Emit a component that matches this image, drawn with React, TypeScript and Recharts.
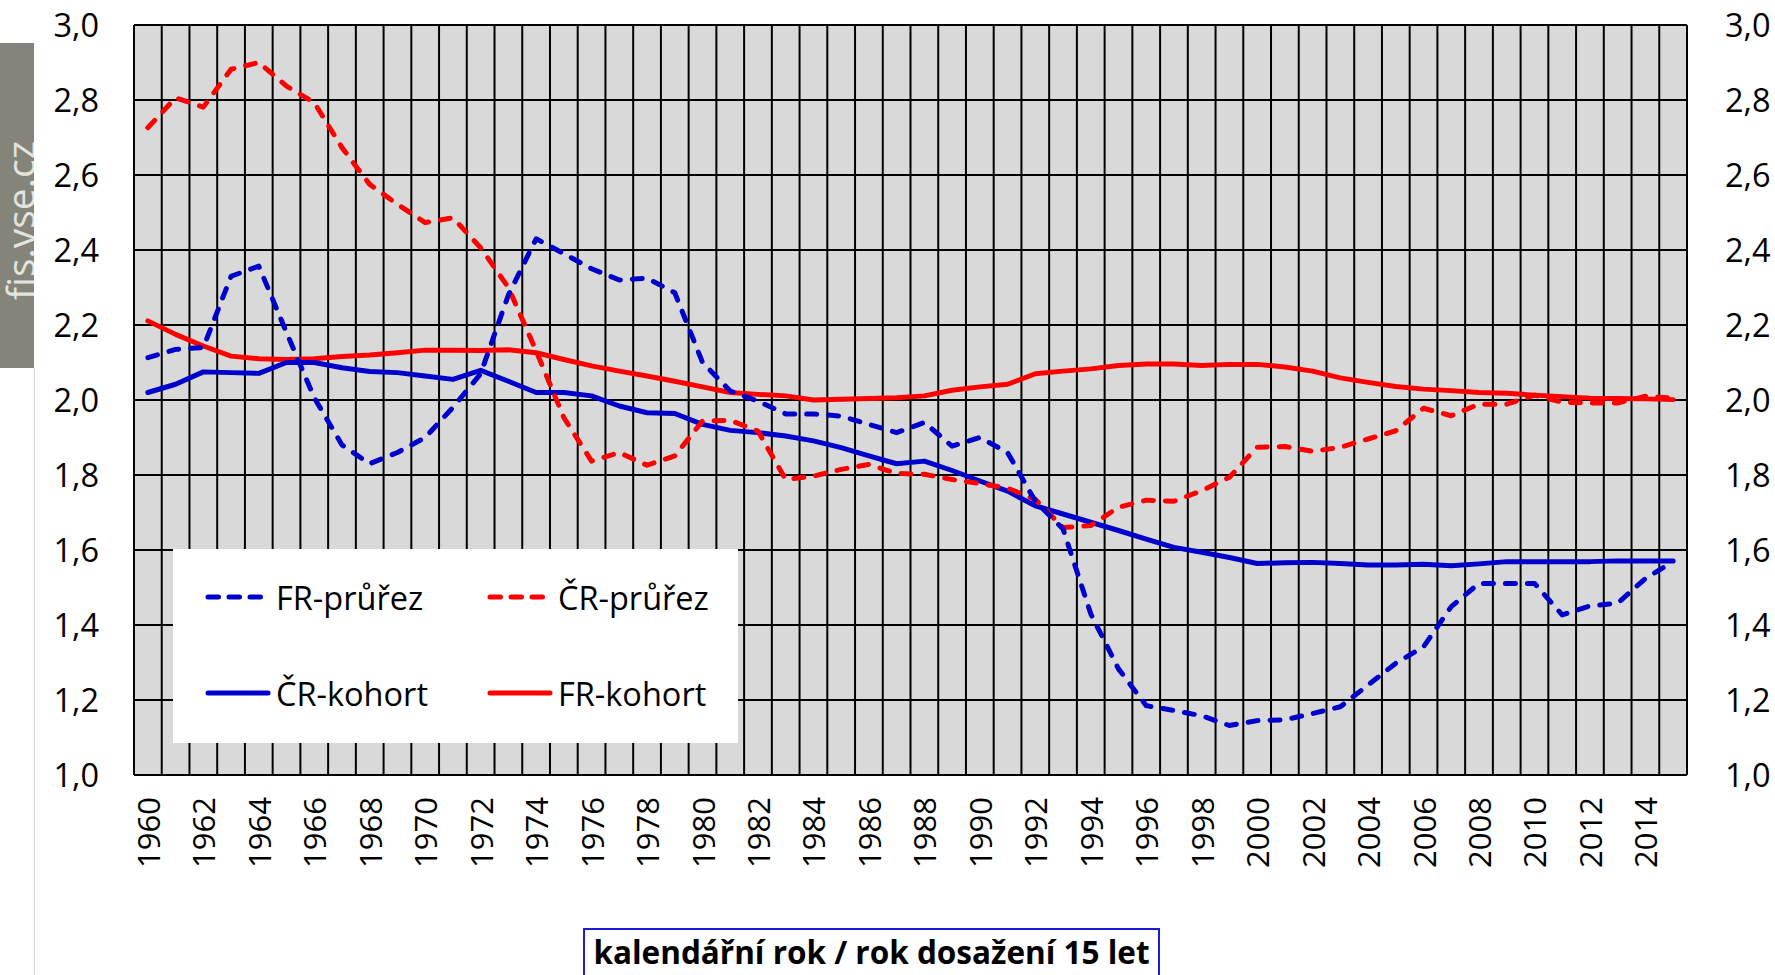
import React from 'react';
import { LineChart, Line, XAxis, YAxis, CartesianGrid } from 'recharts';

const years = [
  1960, 1961, 1962, 1963, 1964, 1965, 1966, 1967, 1968, 1969,
  1970, 1971, 1972, 1973, 1974, 1975, 1976, 1977, 1978, 1979,
  1980, 1981, 1982, 1983, 1984, 1985, 1986, 1987, 1988, 1989,
  1990, 1991, 1992, 1993, 1994, 1995, 1996, 1997, 1998, 1999,
  2000, 2001, 2002, 2003, 2004, 2005, 2006, 2007, 2008, 2009,
  2010, 2011, 2012, 2013, 2014, 2015,
];

const frPrurez = [
  2.113, 2.135, 2.14, 2.33, 2.357, 2.18, 2.006, 1.88, 1.83, 1.86,
  1.9, 1.98, 2.07, 2.28, 2.43, 2.39, 2.35, 2.32, 2.325, 2.286,
  2.1, 2.024, 1.997, 1.963, 1.963, 1.957, 1.935, 1.913, 1.94, 1.877,
  1.9, 1.86, 1.73, 1.656, 1.43, 1.283, 1.185, 1.172, 1.158, 1.132,
  1.145, 1.147, 1.164, 1.182, 1.24, 1.298, 1.342, 1.449, 1.511, 1.511,
  1.511, 1.427, 1.451, 1.458, 1.524, 1.569,
];

const crPrurez = [
  2.726, 2.806, 2.781, 2.882, 2.9, 2.837, 2.793, 2.673, 2.575, 2.522,
  2.473, 2.486, 2.406, 2.3, 2.131, 1.953, 1.837, 1.86, 1.826, 1.851,
  1.944, 1.946, 1.917, 1.788, 1.797, 1.815, 1.828, 1.804, 1.802, 1.788,
  1.777, 1.765, 1.735, 1.66, 1.665, 1.714, 1.733, 1.73, 1.758, 1.794,
  1.874, 1.876, 1.863, 1.874, 1.896, 1.918, 1.978, 1.958, 1.989, 1.989,
  2.013, 1.994, 1.992, 1.992, 2.01, 2.005,
];

const crKohort = [
  2.02, 2.042, 2.075, 2.073, 2.071, 2.1, 2.1, 2.086, 2.076, 2.073,
  2.064, 2.055, 2.079, 2.05, 2.02, 2.02, 2.011, 1.984, 1.966, 1.964,
  1.935, 1.919, 1.913, 1.904, 1.891, 1.873, 1.851, 1.83, 1.837, 1.812,
  1.784, 1.757, 1.718, 1.696, 1.674, 1.652, 1.629, 1.607, 1.594, 1.58,
  1.564, 1.566, 1.567, 1.564, 1.56, 1.56, 1.562, 1.558, 1.563, 1.569,
  1.569, 1.569, 1.569, 1.571, 1.571, 1.571,
];

const frKohort = [
  2.211, 2.175, 2.144, 2.117, 2.11, 2.108, 2.11, 2.116, 2.12, 2.126,
  2.133, 2.133, 2.132, 2.134, 2.126, 2.108, 2.091, 2.077, 2.064, 2.05,
  2.035, 2.02, 2.015, 2.011, 2.0, 2.002, 2.004, 2.006, 2.011, 2.026,
  2.035, 2.042, 2.07, 2.077, 2.083, 2.092, 2.096, 2.096, 2.092, 2.095,
  2.095, 2.088, 2.077, 2.059, 2.047, 2.036, 2.029, 2.025, 2.02, 2.018,
  2.013, 2.009, 2.005, 2.004, 2.003, 2.001,
];

const yTicks = [1.0, 1.2, 1.4, 1.6, 1.8, 2.0, 2.2, 2.4, 2.6, 2.8, 3.0];

const BLUE = '#0000cc';
const RED = '#ff0000';
const DASH = '10 12';
const FONT = '"Open Sans", sans-serif';

const CHART_W = 1775;
const CHART_H = 975;
const LEFT_W = 134;
const RIGHT_W = 88;
// half a category on each side, so points sit in the middle of each grid cell
const HALF_CAT = (CHART_W - LEFT_W - RIGHT_W) / years.length / 2;

// drawing order + legend placement (legend order: FR-průřez, ČR-průřez / ČR-kohort, FR-kohort)
const series = [
  { key: 'frKohort', name: 'FR-kohort', color: RED, dashed: false, col: 1, row: 1 },
  { key: 'crKohort', name: 'ČR-kohort', color: BLUE, dashed: false, col: 0, row: 1 },
  { key: 'crPrurez', name: 'ČR-průřez', color: RED, dashed: true, col: 1, row: 0 },
  { key: 'frPrurez', name: 'FR-průřez', color: BLUE, dashed: true, col: 0, row: 0 },
];

const data = years.map((year, i) => ({
  year,
  frPrurez: frPrurez[i],
  crPrurez: crPrurez[i],
  crKohort: crKohort[i],
  frKohort: frKohort[i],
}));

const fmt = (v: number) => v.toFixed(1).replace('.', ',');

const YearTick = (props: any) => {
  const { x, y, payload } = props;
  return (
    <text
      x={x}
      y={y}
      transform={`rotate(-90, ${x}, ${y})`}
      textAnchor="end"
      dominantBaseline="central"
      fontSize={31}
      fill="#000"
    >
      {payload.value}
    </text>
  );
};

// vertical grid lines sit between the categories, not on them
const categoryBoundaries = ({ offset }: any) => {
  const n = years.length;
  const out: number[] = [];
  for (let i = 0; i <= n; i++) out.push(offset.left + (offset.width * i) / n);
  return out;
};

const ChartLegend = () => (
  <svg
    width={565}
    height={194}
    style={{ position: 'absolute', left: 173, top: 549 }}
  >
    <rect x={0} y={0} width={565} height={194} fill="#fff" />
    {series.map((s) => {
      const lx = s.col === 0 ? 33 : 315;
      const ly = s.row === 0 ? 48 : 144;
      return (
        <g key={s.key}>
          <line
            x1={lx + 2}
            y1={ly}
            x2={lx + (s.dashed ? 58 : 62)}
            y2={ly}
            stroke={s.color}
            strokeWidth={5}
            strokeDasharray={s.dashed ? '10.5 10.5' : undefined}
            strokeLinecap="round"
          />
          <text
            x={lx + 70}
            y={ly}
            dominantBaseline="central"
            fontSize={32.5}
            fontFamily={FONT}
            fill="#000"
          >
            {s.name}
          </text>
        </g>
      );
    })}
  </svg>
);

export default function App() {
  return (
    <div
      style={{
        position: 'absolute',
        left: 0,
        top: 0,
        width: CHART_W,
        height: CHART_H,
        background: '#fff',
        fontFamily: FONT,
        overflow: 'hidden',
      }}
    >
      <div
        style={{
          position: 'absolute',
          left: 0,
          top: 43,
          width: 34,
          height: 325,
          background: '#84847a',
          overflow: 'hidden',
        }}
      >
        <svg width={34} height={325}>
          <text
            x={35}
            y={257}
            transform="rotate(-90, 35, 257)"
            fontSize={39}
            fill="#e4e4de"
            fontFamily={FONT}
          >
            fis.vse.cz
          </text>
        </svg>
      </div>
      <div
        style={{
          position: 'absolute',
          left: 34,
          top: 368,
          width: 1,
          height: 607,
          background: '#d4d4d4',
        }}
      />

      <LineChart
        width={CHART_W}
        height={CHART_H}
        data={data}
        margin={{ top: 25, right: 0, bottom: 0, left: 0 }}
      >
        <CartesianGrid
          yAxisId="left"
          fill="#d9d9d9"
          fillOpacity={1}
          stroke="#000"
          strokeWidth={2}
          verticalCoordinatesGenerator={categoryBoundaries}
        />
        <XAxis
          dataKey="year"
          interval={1}
          height={200}
          padding={{ left: HALF_CAT, right: HALF_CAT }}
          axisLine={false}
          tickLine={false}
          tickSize={0}
          tickMargin={22}
          tick={<YearTick />}
        />
        <YAxis
          yAxisId="left"
          domain={[1, 3]}
          ticks={yTicks}
          width={LEFT_W}
          axisLine={false}
          tickLine={false}
          tickSize={0}
          tickMargin={35}
          tickFormatter={fmt}
          tick={{ fontSize: 32.5, fill: '#000' }}
        />
        <YAxis
          yAxisId="right"
          orientation="right"
          domain={[1, 3]}
          ticks={yTicks}
          width={RIGHT_W}
          axisLine={false}
          tickLine={false}
          tickSize={0}
          tickMargin={38}
          tickFormatter={fmt}
          tick={{ fontSize: 32.5, fill: '#000' }}
        />
        {/* the secondary axis only shows when a series is bound to it */}
        <Line
          yAxisId="right"
          dataKey="frKohort"
          stroke="none"
          strokeWidth={0}
          dot={false}
          activeDot={false}
          legendType="none"
          isAnimationActive={false}
        />
        {series.map((s) => (
          <Line
            key={s.key}
            yAxisId="left"
            type="linear"
            dataKey={s.key}
            name={s.name}
            stroke={s.color}
            strokeWidth={5}
            strokeDasharray={s.dashed ? DASH : undefined}
            strokeLinecap="round"
            strokeLinejoin="round"
            dot={false}
            activeDot={false}
            isAnimationActive={false}
          />
        ))}
      </LineChart>

      <ChartLegend />

      <div
        style={{
          position: 'absolute',
          left: 583,
          top: 928,
          width: 577,
          height: 70,
          boxSizing: 'border-box',
          border: '2px solid #1c1cd8',
          background: '#fff',
          textAlign: 'center',
          fontWeight: 700,
          fontSize: 31.5,
          lineHeight: '40px',
          paddingTop: 2,
          color: '#000',
          whiteSpace: 'nowrap',
        }}
      >
        kalendářní rok / rok dosažení 15 let
      </div>
    </div>
  );
}
